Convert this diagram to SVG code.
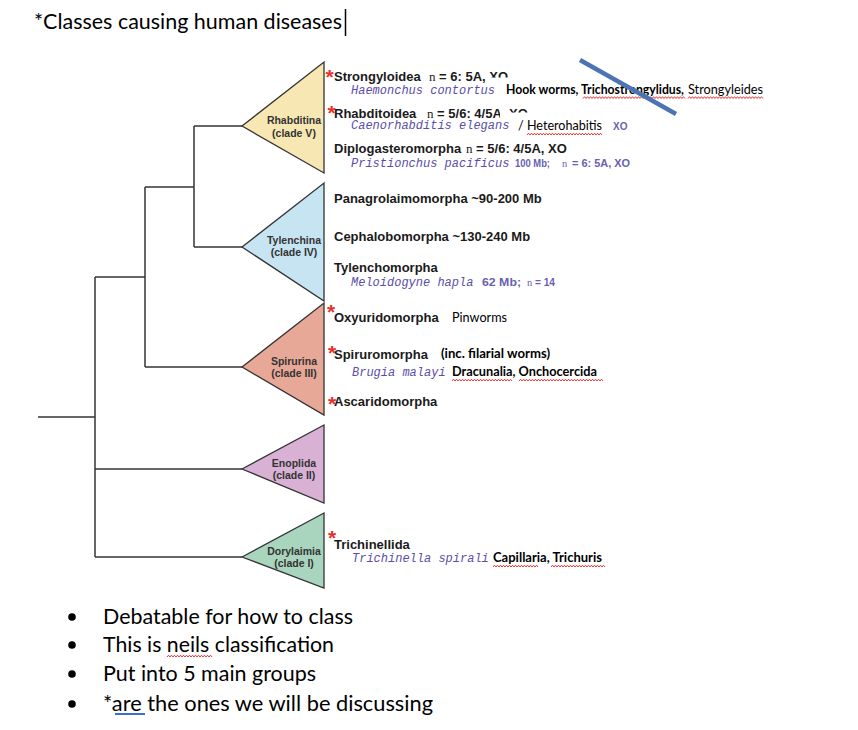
<svg xmlns="http://www.w3.org/2000/svg" width="858" height="730" viewBox="0 0 858 730">
<style>
.bg{fill:#ffffff}
.edge{stroke:#333333;stroke-width:1.5;fill:none}
.tri{stroke:#333333;stroke-width:1.3;stroke-linejoin:miter}
.lab{font-family:"Liberation Sans",Arial,sans-serif;font-weight:bold;font-size:10.5px;fill:#333333;text-anchor:middle}
.nm{font-family:"Liberation Sans",Arial,sans-serif;font-weight:bold;font-size:13px;fill:#1a1a1a}
.ser{font-family:"Liberation Serif","Times New Roman",serif;font-weight:normal}
.sp{font-family:"Liberation Mono","Courier New",monospace;font-style:italic;font-size:12px;fill:#5a4ea8}
.pu{font-family:"Liberation Sans",Arial,sans-serif;font-weight:bold;font-size:10px;fill:#6a5fb0}
.cal{font-family:Lato,"Liberation Sans",sans-serif;font-size:12.5px;fill:#000000}
.calb{font-family:Lato,"Liberation Sans",sans-serif;font-size:12.5px;font-weight:bold;fill:#000000}
.big{font-family:Lato,"Liberation Sans",sans-serif;font-size:21px;fill:#000000}
.ast{font-family:"Liberation Sans",Arial,sans-serif;font-weight:bold;font-size:21px;fill:#e8302a}
.wav{stroke:#e02020;stroke-width:0.9;fill:none}
</style>
<defs>
<clipPath id="clipXO1" clipPathUnits="userSpaceOnUse">
<path clip-rule="evenodd" d="M0,0H858V730H0Z M486,77.5H522V86H486Z"/>
</clipPath>
<clipPath id="clipXO2" clipPathUnits="userSpaceOnUse">
<path clip-rule="evenodd" d="M0,0H858V730H0Z M500,112.5H540V122H500Z"/>
</clipPath>
</defs>
<rect class="bg" x="0" y="0" width="858" height="730"/>

<g id="title">
<text class="big" x="34" y="29" font-size="22" textLength="308" lengthAdjust="spacingAndGlyphs">*Classes causing human diseases</text>
<line x1="345.5" y1="9" x2="345.5" y2="36" stroke="#000" stroke-width="1.5"/>
</g>

<g id="connectors">
<path class="edge" d="M38,417 H95"/>
<path class="edge" d="M95,277 V557"/>
<path class="edge" d="M95,277 H145"/>
<path class="edge" d="M95,469 H242"/>
<path class="edge" d="M95,557 H242"/>
<path class="edge" d="M145,187 V367"/>
<path class="edge" d="M145,187 H194"/>
<path class="edge" d="M145,367 H242"/>
<path class="edge" d="M194,126 V247"/>
<path class="edge" d="M194,126 H242"/>
<path class="edge" d="M194,247 H242"/>
</g>

<g id="rhabditina">
<polygon class="tri" points="242,126 324,62 324,173" fill="#f6e7b3"/>
<text class="lab" x="294" y="123.5">Rhabditina</text>
<text class="lab" x="294" y="136.5">(clade V)</text>
<text class="ast" x="325.5" y="83.5">*</text>
<text class="nm" x="334" y="81">Strongyloidea</text>
<text class="nm" x="429" y="81" clip-path="url(#clipXO1)"><tspan class="ser">n</tspan> = 6: 5A, XO</text>
<text class="sp" x="351" y="94">Haemonchus contortus</text>
<text class="calb" x="506" y="94" textLength="178" lengthAdjust="spacingAndGlyphs">Hook worms, Trichostrongylidus,</text>
<text class="cal" x="688" y="94" textLength="75" lengthAdjust="spacingAndGlyphs">Strongyleides</text>
<text class="ast" x="327.5" y="119.5">*</text>
<text class="nm" x="334" y="118">Rhabditoidea</text>
<text class="nm" x="427" y="118" clip-path="url(#clipXO2)"><tspan class="ser">n</tspan> = 5/6: 4/5A, XO</text>
<text class="sp" x="351" y="129">Caenorhabditis elegans</text>
<text class="cal" x="518" y="130" textLength="84" lengthAdjust="spacingAndGlyphs">/ Heterohabitis</text>
<text class="pu" x="613" y="130">XO</text>
<text class="nm" x="334" y="153">Diplogasteromorpha</text>
<text class="nm" x="466" y="153"><tspan class="ser">n</tspan> = 5/6: 4/5A, XO</text>
<text class="sp" x="351" y="167">Pristionchus pacificus</text>
<text class="pu" x="515" y="167" textLength="35" lengthAdjust="spacingAndGlyphs">100 Mb;</text>
<text class="pu" x="562" y="167"><tspan class="ser" font-size="10.5">n</tspan></text>
<text class="pu" x="572" y="167" textLength="58" lengthAdjust="spacingAndGlyphs">= 6: 5A, XO</text>
</g>

<g id="tylenchina">
<polygon class="tri" points="242,247 324,183 324,301" fill="#c6e4f1"/>
<text class="lab" x="294" y="243.5">Tylenchina</text>
<text class="lab" x="294" y="256">(clade IV)</text>
<text class="nm" x="334" y="203">Panagrolaimomorpha ~90-200 Mb</text>
<text class="nm" x="334" y="241">Cephalobomorpha ~130-240 Mb</text>
<text class="nm" x="334" y="272">Tylenchomorpha</text>
<text class="sp" x="351" y="286">Meloidogyne hapla</text>
<text class="pu" x="482" y="286" textLength="39" lengthAdjust="spacingAndGlyphs">62 Mb;</text>
<text class="pu" x="527" y="286"><tspan class="ser" font-size="10.5">n</tspan></text>
<text class="pu" x="535" y="286" textLength="20" lengthAdjust="spacingAndGlyphs">= 14</text>
</g>

<g id="spirurina">
<polygon class="tri" points="242,367 324,303 324,415" fill="#e8a898"/>
<text class="lab" x="294" y="364.5">Spirurina</text>
<text class="lab" x="294" y="377">(clade III)</text>
<text class="ast" x="327" y="318.5">*</text>
<text class="nm" x="334" y="322">Oxyuridomorpha</text>
<text class="cal" x="452" y="322" textLength="55" lengthAdjust="spacingAndGlyphs">Pinworms</text>
<text class="ast" x="328" y="359.5">*</text>
<text class="nm" x="334" y="359">Spiruromorpha</text>
<text class="calb" x="441" y="358" textLength="109" lengthAdjust="spacingAndGlyphs">(inc. filarial worms)</text>
<text class="sp" x="352" y="376">Brugia malayi</text>
<text class="calb" x="452" y="376" textLength="145" lengthAdjust="spacingAndGlyphs">Dracunalia, Onchocercida</text>
<text class="ast" x="328" y="410.5">*</text>
<text class="nm" x="334" y="406">Ascaridomorpha</text>
</g>

<g id="enoplida">
<polygon class="tri" points="242,469 324,425 324,503" fill="#d8b1d5"/>
<text class="lab" x="294" y="466.5">Enoplida</text>
<text class="lab" x="294" y="479">(clade II)</text>
</g>

<g id="dorylaimia">
<polygon class="tri" points="242,557 324,513 324,588" fill="#a9d5be"/>
<text class="lab" x="294" y="554.5">Dorylaimia</text>
<text class="lab" x="294" y="567">(clade I)</text>
<text class="ast" x="328" y="544.5">*</text>
<text class="nm" x="334" y="549">Trichinellida</text>
<text class="sp" x="352" y="562">Trichinella spirali</text>
<text class="calb" x="493" y="562" textLength="109" lengthAdjust="spacingAndGlyphs">Capillaria, Trichuris</text>
</g>

<g id="annotations">
<path class="wav" d="M583,98.5 l1.5,-1.8 1.5,1.8 1.5,-1.8 1.5,1.8 1.5,-1.8 1.5,1.8 1.5,-1.8 1.5,1.8 1.5,-1.8 1.5,1.8 1.5,-1.8 1.5,1.8 1.5,-1.8 1.5,1.8 1.5,-1.8 1.5,1.8 1.5,-1.8 1.5,1.8 1.5,-1.8 1.5,1.8 1.5,-1.8 1.5,1.8 1.5,-1.8 1.5,1.8 1.5,-1.8 1.5,1.8 1.5,-1.8 1.5,1.8 1.5,-1.8 1.5,1.8 1.5,-1.8 1.5,1.8 1.5,-1.8 1.5,1.8 1.5,-1.8 1.5,1.8 1.5,-1.8 1.5,1.8 1.5,-1.8 1.5,1.8 1.5,-1.8 1.5,1.8 1.5,-1.8 1.5,1.8 1.5,-1.8 1.5,1.8 1.5,-1.8 1.5,1.8 1.5,-1.8 1.5,1.8 1.5,-1.8 1.5,1.8 1.5,-1.8 1.5,1.8 1.5,-1.8 1.5,1.8 1.5,-1.8 1.5,1.8 1.5,-1.8 1.5,1.8 1.5,-1.8 1.5,1.8 1.5,-1.8 1.5,1.8 1.5,-1.8 1.5,1.8 1.5,-1.8 1.5,1.8"/>
<path class="wav" d="M688,98.5 l1.5,-1.8 1.5,1.8 1.5,-1.8 1.5,1.8 1.5,-1.8 1.5,1.8 1.5,-1.8 1.5,1.8 1.5,-1.8 1.5,1.8 1.5,-1.8 1.5,1.8 1.5,-1.8 1.5,1.8 1.5,-1.8 1.5,1.8 1.5,-1.8 1.5,1.8 1.5,-1.8 1.5,1.8 1.5,-1.8 1.5,1.8 1.5,-1.8 1.5,1.8 1.5,-1.8 1.5,1.8 1.5,-1.8 1.5,1.8 1.5,-1.8 1.5,1.8 1.5,-1.8 1.5,1.8 1.5,-1.8 1.5,1.8 1.5,-1.8 1.5,1.8 1.5,-1.8 1.5,1.8 1.5,-1.8 1.5,1.8 1.5,-1.8 1.5,1.8 1.5,-1.8 1.5,1.8 1.5,-1.8 1.5,1.8 1.5,-1.8 1.5,1.8 1.5,-1.8 1.5,1.8"/>
<path class="wav" d="M527,135 l1.5,-1.8 1.5,1.8 1.5,-1.8 1.5,1.8 1.5,-1.8 1.5,1.8 1.5,-1.8 1.5,1.8 1.5,-1.8 1.5,1.8 1.5,-1.8 1.5,1.8 1.5,-1.8 1.5,1.8 1.5,-1.8 1.5,1.8 1.5,-1.8 1.5,1.8 1.5,-1.8 1.5,1.8 1.5,-1.8 1.5,1.8 1.5,-1.8 1.5,1.8 1.5,-1.8 1.5,1.8 1.5,-1.8 1.5,1.8 1.5,-1.8 1.5,1.8 1.5,-1.8 1.5,1.8 1.5,-1.8 1.5,1.8 1.5,-1.8 1.5,1.8 1.5,-1.8 1.5,1.8 1.5,-1.8 1.5,1.8 1.5,-1.8 1.5,1.8 1.5,-1.8 1.5,1.8 1.5,-1.8 1.5,1.8 1.5,-1.8 1.5,1.8 1.5,-1.8 1.5,1.8"/>
<path class="wav" d="M452,381 l1.5,-1.8 1.5,1.8 1.5,-1.8 1.5,1.8 1.5,-1.8 1.5,1.8 1.5,-1.8 1.5,1.8 1.5,-1.8 1.5,1.8 1.5,-1.8 1.5,1.8 1.5,-1.8 1.5,1.8 1.5,-1.8 1.5,1.8 1.5,-1.8 1.5,1.8 1.5,-1.8 1.5,1.8 1.5,-1.8 1.5,1.8 1.5,-1.8 1.5,1.8 1.5,-1.8 1.5,1.8 1.5,-1.8 1.5,1.8 1.5,-1.8 1.5,1.8 1.5,-1.8 1.5,1.8 1.5,-1.8 1.5,1.8 1.5,-1.8 1.5,1.8 1.5,-1.8 1.5,1.8 1.5,-1.8 1.5,1.8"/>
<path class="wav" d="M519,381 l1.5,-1.8 1.5,1.8 1.5,-1.8 1.5,1.8 1.5,-1.8 1.5,1.8 1.5,-1.8 1.5,1.8 1.5,-1.8 1.5,1.8 1.5,-1.8 1.5,1.8 1.5,-1.8 1.5,1.8 1.5,-1.8 1.5,1.8 1.5,-1.8 1.5,1.8 1.5,-1.8 1.5,1.8 1.5,-1.8 1.5,1.8 1.5,-1.8 1.5,1.8 1.5,-1.8 1.5,1.8 1.5,-1.8 1.5,1.8 1.5,-1.8 1.5,1.8 1.5,-1.8 1.5,1.8 1.5,-1.8 1.5,1.8 1.5,-1.8 1.5,1.8 1.5,-1.8 1.5,1.8 1.5,-1.8 1.5,1.8 1.5,-1.8 1.5,1.8 1.5,-1.8 1.5,1.8 1.5,-1.8 1.5,1.8 1.5,-1.8 1.5,1.8 1.5,-1.8 1.5,1.8 1.5,-1.8 1.5,1.8 1.5,-1.8 1.5,1.8 1.5,-1.8 1.5,1.8"/>
<path class="wav" d="M493,567 l1.5,-1.8 1.5,1.8 1.5,-1.8 1.5,1.8 1.5,-1.8 1.5,1.8 1.5,-1.8 1.5,1.8 1.5,-1.8 1.5,1.8 1.5,-1.8 1.5,1.8 1.5,-1.8 1.5,1.8 1.5,-1.8 1.5,1.8 1.5,-1.8 1.5,1.8 1.5,-1.8 1.5,1.8 1.5,-1.8 1.5,1.8 1.5,-1.8 1.5,1.8 1.5,-1.8 1.5,1.8 1.5,-1.8 1.5,1.8 1.5,-1.8 1.5,1.8"/>
<path class="wav" d="M551,567 l1.5,-1.8 1.5,1.8 1.5,-1.8 1.5,1.8 1.5,-1.8 1.5,1.8 1.5,-1.8 1.5,1.8 1.5,-1.8 1.5,1.8 1.5,-1.8 1.5,1.8 1.5,-1.8 1.5,1.8 1.5,-1.8 1.5,1.8 1.5,-1.8 1.5,1.8 1.5,-1.8 1.5,1.8 1.5,-1.8 1.5,1.8 1.5,-1.8 1.5,1.8 1.5,-1.8 1.5,1.8 1.5,-1.8 1.5,1.8 1.5,-1.8 1.5,1.8 1.5,-1.8 1.5,1.8 1.5,-1.8 1.5,1.8 1.5,-1.8 1.5,1.8"/>
<line x1="580" y1="60" x2="676" y2="114" stroke="#4c74b4" stroke-width="4.5"/>
</g>

<g id="bullets">
<circle cx="72" cy="617" r="3.8" fill="#000"/>
<circle cx="72" cy="645" r="3.8" fill="#000"/>
<circle cx="72" cy="674" r="3.8" fill="#000"/>
<circle cx="72" cy="704" r="3.8" fill="#000"/>
<text class="big" x="103" y="624" textLength="250" lengthAdjust="spacingAndGlyphs">Debatable for how to class</text>
<text class="big" x="103" y="652" textLength="231" lengthAdjust="spacingAndGlyphs">This is neils classification</text>
<text class="big" x="103" y="681" textLength="213" lengthAdjust="spacingAndGlyphs">Put into 5 main groups</text>
<text class="big" x="103" y="711" textLength="330" lengthAdjust="spacingAndGlyphs">*are the ones we will be discussing</text>
<path class="wav" d="M167,657 l1.5,-1.8 1.5,1.8 1.5,-1.8 1.5,1.8 1.5,-1.8 1.5,1.8 1.5,-1.8 1.5,1.8 1.5,-1.8 1.5,1.8 1.5,-1.8 1.5,1.8 1.5,-1.8 1.5,1.8 1.5,-1.8 1.5,1.8 1.5,-1.8 1.5,1.8 1.5,-1.8 1.5,1.8 1.5,-1.8 1.5,1.8 1.5,-1.8 1.5,1.8 1.5,-1.8 1.5,1.8 1.5,-1.8 1.5,1.8 1.5,-1.8 1.5,1.8"/>
<rect x="115" y="713" width="30" height="2" fill="#3a6fd0"/>
</g>
</svg>
